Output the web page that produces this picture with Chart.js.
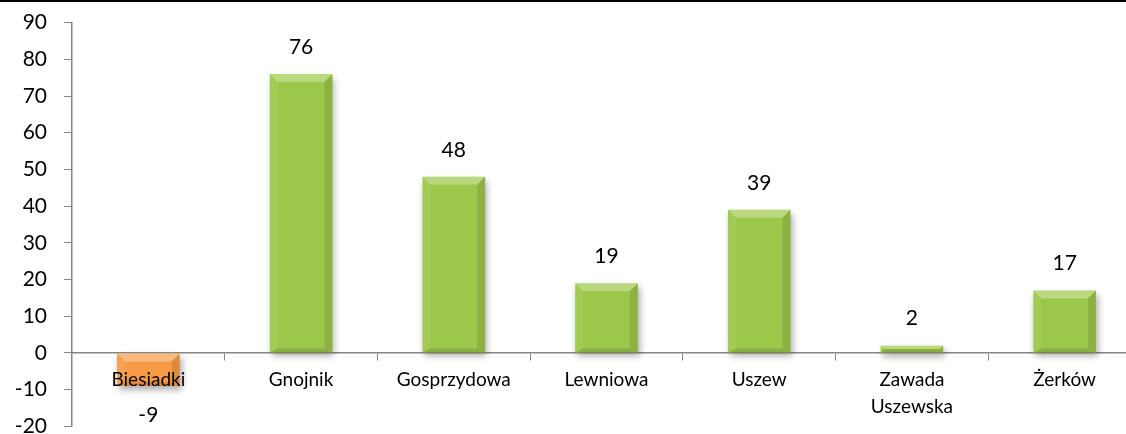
<!DOCTYPE html>
<html>
<head>
<meta charset="utf-8">
<script src="https://cdn.jsdelivr.net/npm/chart.js@4"></script>
<style>
	html, body { margin: 0; padding: 0; background: #fff; }
	#wrap { position: relative; width: 1126px; height: 434px; overflow: hidden; }
	#barChart { position: absolute; left: 0; top: -7px; }
	#topline { position: absolute; left: 0; top: 0; width: 100%; height: 1.5px; background: #000; }
</style>
</head>
<body>
<div id="wrap"><canvas id="barChart" width="1141" height="463"></canvas><div id="topline"></div></div>
<script>
const categories = ["Biesiadki", "Gnojnik", "Gosprzydowa", "Lewniowa", "Uszew", ["Zawada", "Uszewska"], "Żerków"];
const values = [-9, 76, 48, 19, 39, 2, 17];
const yTicks = [-20, -10, 0, 10, 20, 30, 40, 50, 60, 70, 80, 90];

function barFill(ctx) {
	const el = ctx.element;
	const chart = ctx.chart;
	const v = values[ctx.dataIndex];
	if (!el || !el.width) return v < 0 ? "#f79a45" : "#9bc74a";
	const x0 = el.x - el.width / 2, x1 = el.x + el.width / 2;
	const g = chart.ctx.createLinearGradient(x0, 0, x1, 0);
	if (v < 0) {
		g.addColorStop(0, "#f59038");
		g.addColorStop(0.5, "#fa9f4a");
		g.addColorStop(1, "#f08b32");
	} else {
		g.addColorStop(0, "#98c44a");
		g.addColorStop(0.5, "#9fca50");
		g.addColorStop(1, "#93be46");
	}
	return g;
}

// shadow under the bars
const shadowPlugin = {
	id: "shadow",
	beforeDatasetDraw(chart) {
		const c = chart.ctx;
		c.save();
		c.shadowColor = "rgba(0,0,0,0.35)";
		c.shadowBlur = 7;
		c.shadowOffsetX = 2;
		c.shadowOffsetY = 4;
	},
	afterDatasetDraw(chart) {
		chart.ctx.restore();
	}
};

// bevel edges + value labels
const bevelPlugin = {
	id: "bevel",
	afterDatasetsDraw(chart) {
		const c = chart.ctx;
		const meta = chart.getDatasetMeta(0);
		meta.data.forEach((el, i) => {
			const x0 = el.x - el.width / 2, x1 = el.x + el.width / 2;
			const top = Math.min(el.y, el.base), bot = Math.max(el.y, el.base);
			const b = Math.min(8, (bot - top) / 2, el.width / 2);
			const bb = Math.min(4, (bot - top) / 2);
			c.save();
			c.fillStyle = "rgba(255,255,255,0.3)";
			c.beginPath();
			c.moveTo(x0, top); c.lineTo(x1, top); c.lineTo(x1 - b, top + b); c.lineTo(x0 + b, top + b);
			c.closePath(); c.fill();
			c.fillStyle = "rgba(255,255,255,0.07)";
			c.beginPath();
			c.moveTo(x0, top); c.lineTo(x0 + b, top + b); c.lineTo(x0 + b, bot - bb); c.lineTo(x0, bot);
			c.closePath(); c.fill();
			c.fillStyle = "rgba(0,0,0,0.1)";
			c.beginPath();
			c.moveTo(x1, top); c.lineTo(x1 - b, top + b); c.lineTo(x1 - b, bot - bb); c.lineTo(x1, bot);
			c.closePath(); c.fill();
			c.fillStyle = "rgba(0,0,0,0.12)";
			c.beginPath();
			c.moveTo(x0, bot); c.lineTo(x0 + b, bot - bb); c.lineTo(x1 - b, bot - bb); c.lineTo(x1, bot);
			c.closePath(); c.fill();

			const v = values[i];
			c.fillStyle = "#000";
			c.font = "21px Lato";
			c.textAlign = "center";
			c.textBaseline = "middle";
			c.fillText(String(v), el.x, v >= 0 ? el.y - 27 : el.y + 29);
			c.restore();
		});
	}
};

const ctx = document.getElementById("barChart").getContext("2d");
new Chart(ctx, {
	type: "bar",
	data: {
		labels: categories,
		datasets: [
			{
				data: values,
				backgroundColor: barFill,
				borderWidth: 0,
				categoryPercentage: 1,
				barPercentage: 0.41
			}
		]
	},
	options: {
		responsive: false,
		animation: false,
		layout: { padding: { top: 17, bottom: 7, left: 0, right: 0 } },
		plugins: {
			legend: { display: false },
			tooltip: { enabled: false }
		},
		scales: {
			x: {
				position: { y: 0 },
				grid: { drawOnChartArea: false, drawTicks: true, tickLength: 7, color: "#868686", offset: true },
				border: { color: "#868686", width: 1.5 },
				ticks: { z: 1, color: "#000", font: { family: "Lato", size: 19, lineHeight: 1.42 }, padding: 6, maxRotation: 0, autoSkip: false }
			},
			y: {
				min: yTicks[0],
				max: yTicks[yTicks.length - 1],
				afterBuildTicks: (scale) => { scale.ticks = yTicks.map((v) => ({ value: v })); },
				afterFit: (scale) => { scale.width = 72; },
				grid: { drawOnChartArea: false, drawTicks: true, tickLength: 8, color: "#868686" },
				border: { color: "#868686", width: 1.5 },
				ticks: { color: "#000", font: { family: "Lato", size: 21 }, padding: 17 }
			}
		}
	},
	plugins: [shadowPlugin, bevelPlugin]
});
</script>
</body>
</html>
